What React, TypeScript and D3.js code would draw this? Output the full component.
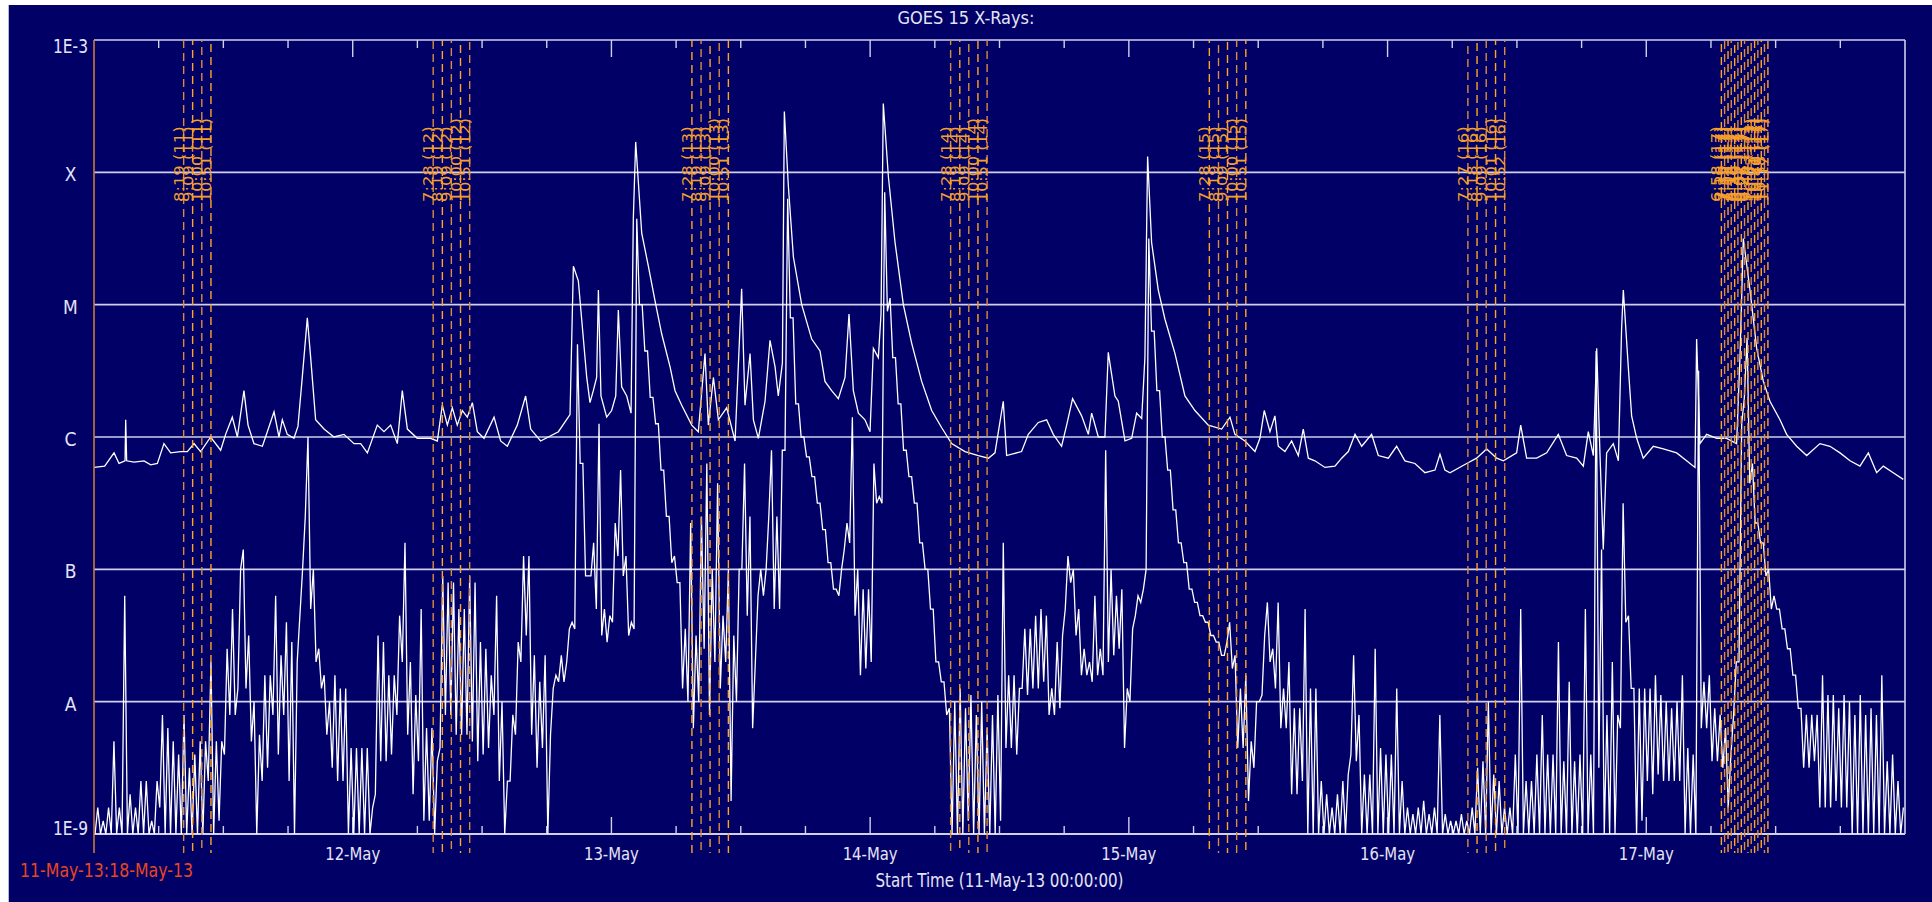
import React from 'react';
import * as d3 from 'd3';

// ---- axis / label data ----
const dayLabels = ['12-May', '13-May', '14-May', '15-May', '16-May', '17-May'];
const dayOffsetsHours = [24, 48, 72, 96, 120, 144];
const yTickValues = [1e-3, 1e-4, 1e-5, 1e-6, 1e-7, 1e-8, 1e-9];
const yTickLabels = ['1E-3', 'X', 'M', 'C', 'B', 'A', '1E-9'];
const gridDecades = [1e-4, 1e-5, 1e-6, 1e-7, 1e-8];

// ---- GOES 15 long channel (1-8 A): hours since 11-May-13 00:00, log10 flux (W/m^2) ----
const longHours = [
  0, 0.99, 1.86, 2.32, 2.88, 2.94, 3.03, 3.71, 4.64, 5.26, 5.88, 6.49, 7.11, 8.04, 8.66, 9.28, 9.89, 10.82, 11.75, 12.21,
  12.83, 13.3, 13.91, 14.29, 14.84, 15.62, 16.08, 16.7, 17.16, 17.47, 17.93, 18.55, 18.92, 19.33, 19.79, 20.1, 20.56, 21.34, 22.26, 23.19,
  24.12, 24.74, 25.36, 26.28, 26.9, 27.52, 28.14, 28.6, 29.07, 29.99, 31.23, 31.85, 32.31, 32.78, 33.24, 33.7, 34.17, 34.63, 35.1, 35.56,
  36.18, 37.11, 37.72, 38.34, 39.27, 40.04, 40.51, 41.43, 43.08, 44.16, 44.47, 44.93, 45.24, 45.71, 46.01, 46.32, 46.63, 46.79, 47.03, 47.56,
  48.02, 48.4, 48.64, 48.95, 49.42, 49.82, 50.03, 50.25, 50.81, 51.43, 52.04, 52.66, 53.44, 53.9, 54.52, 55.45, 56.06, 56.68, 56.99, 57.46,
  57.92, 58.69, 59.47, 60.08, 60.39, 60.86, 61.17, 61.63, 62.25, 62.71, 63.18, 63.48, 63.86, 64.04, 64.41, 64.88, 65.65, 66.58, 67.35, 67.81,
  68.43, 69.05, 69.67, 70.04, 70.44, 70.91, 71.52, 71.99, 72.3, 72.76, 73.01, 73.22, 73.69, 74.31, 75.08, 75.85, 76.78, 77.71, 78.64, 79.56,
  80.8, 82.04, 82.97, 83.58, 84.35, 84.66, 86.05, 86.67, 87.6, 88.37, 88.99, 89.76, 90.23, 90.78, 91.62, 92.24, 92.55, 93.17, 93.78, 94.09,
  94.71, 95.02, 95.64, 96.26, 96.72, 97.19, 97.49, 97.74, 98.11, 98.73, 99.35, 100.28, 101.2, 102.13, 103.37, 104.61, 105.38, 105.84, 106.77, 107.7,
  108.16, 108.56, 109.09, 109.55, 109.86, 110.48, 111.1, 111.72, 112.18, 112.65, 113.26, 114.19, 115.12, 115.74, 116.36, 116.98, 117.6, 118.52, 119.14, 120.07,
  120.84, 121.61, 122.54, 123.47, 124.4, 124.86, 125.32, 125.79, 127.34, 128.26, 129.19, 130.12, 130.74, 131.97, 132.35, 132.9, 133.83, 134.76, 135.84, 136.61,
  137.54, 138.16, 138.62, 139.09, 139.4, 139.7, 140.01, 140.32, 140.94, 141.41, 141.71, 141.87, 142.33, 142.64, 143.11, 143.72, 144.65, 145.58, 146.82, 147.74,
  148.52, 148.67, 148.98, 149.6, 150.53, 151.45, 152.38, 152.69, 153.0, 153.62, 154.24, 154.86, 155.47, 156.4, 157.02, 157.95, 158.88, 160.11, 161.04, 161.97,
  162.9, 163.82, 164.6, 165.37, 165.99, 166.91, 167.84,
];
const longLog10 = [
  -6.23, -6.22, -6.12, -6.2, -6.18, -5.87, -6.18, -6.19, -6.18, -6.21, -6.2, -6.05, -6.12, -6.11, -6.11, -6.05, -6.11, -6.0, -6.1, -5.98,
  -5.85, -6.0, -5.65, -5.91, -6.05, -6.07, -5.96, -5.81, -6.0, -5.87, -5.98, -6.01, -5.92, -5.54, -5.1, -5.4, -5.87, -5.94, -6.0, -5.98,
  -6.05, -6.05, -6.12, -5.91, -5.96, -5.91, -6.05, -5.65, -5.94, -6.01, -6.01, -6.03, -5.76, -5.91, -5.78, -5.91, -5.8, -5.85, -5.74, -5.96,
  -6.01, -5.85, -6.03, -6.07, -5.91, -5.69, -5.94, -6.03, -5.96, -5.83, -4.71, -4.82, -5.11, -5.55, -5.74, -5.65, -5.55, -4.89, -5.69, -5.85,
  -5.8, -5.69, -5.04, -5.62, -5.69, -5.82, -4.35, -3.77, -4.46, -4.71, -4.97, -5.22, -5.47, -5.65, -5.76, -5.91, -5.96, -5.37, -5.91, -5.55,
  -5.87, -5.78, -6.03, -4.88, -5.76, -5.37, -5.87, -6.01, -5.73, -5.27, -5.47, -5.69, -5.44, -3.54, -4.1, -4.64, -5.0, -5.26, -5.35, -5.58,
  -5.65, -5.71, -5.55, -5.07, -5.65, -5.82, -5.87, -5.96, -5.33, -5.4, -5.07, -3.48, -4.03, -4.53, -5.0, -5.29, -5.58, -5.8, -5.93, -6.05,
  -6.11, -6.14, -6.16, -6.12, -5.73, -6.14, -6.11, -5.98, -5.89, -5.87, -5.98, -6.07, -5.91, -5.71, -5.84, -5.98, -5.82, -6.0, -6.0, -5.36,
  -5.69, -5.73, -6.03, -6.01, -5.82, -5.86, -5.4, -3.88, -4.53, -4.89, -5.11, -5.37, -5.69, -5.8, -5.91, -5.94, -5.85, -5.98, -6.03, -6.11,
  -6.01, -5.8, -5.96, -5.84, -6.07, -6.11, -6.03, -6.14, -5.94, -6.16, -6.18, -6.23, -6.22, -6.16, -6.11, -5.98, -6.07, -5.98, -6.14, -6.16,
  -6.07, -6.18, -6.2, -6.27, -6.25, -6.13, -6.25, -6.27, -6.2, -6.16, -6.09, -6.16, -6.18, -6.12, -5.91, -6.16, -6.16, -6.12, -5.98, -6.14,
  -6.16, -6.22, -5.96, -6.14, -5.33, -6.12, -6.85, -6.12, -6.05, -6.18, -5.18, -4.89, -5.47, -5.84, -6.01, -6.16, -6.07, -6.09, -6.12, -6.18,
  -6.23, -5.26, -6.05, -5.98, -6.01, -6.01, -6.05, -5.4, -4.5, -4.89, -5.33, -5.58, -5.73, -5.87, -5.98, -6.07, -6.14, -6.05, -6.07, -6.12,
  -6.18, -6.22, -6.12, -6.27, -6.22, -6.27, -6.32,
];

// ---- GOES 15 short channel (0.5-4 A): 30-minute bins, upper / lower log10 flux ----
const shortHiLog10 = [
  -8.8, -8.9, -8.8, -8.3, -8.8, -7.2, -8.7, -8.8, -8.6, -8.6, -8.9, -8.6, -8.1, -8.2, -8.3, -8.4, -8.1, -8.5, -8.4, -8.3,
  -8.3, -7.7, -8.3, -8.3, -7.6, -7.3, -7.9, -6.85, -7.5, -8.0, -8.25, -7.8, -7.8, -7.2, -7.65, -7.4, -7.55, -7.7, -7.0, -6.0,
  -7.0, -7.6, -7.8, -8.0, -7.8, -7.9, -7.9, -8.35, -8.35, -8.35, -8.35, -8.8, -7.5, -7.55, -7.8, -7.8, -7.35, -6.8, -7.7, -7.95,
  -7.3, -8.2, -8.2, -8.45, -7.05, -7.1, -7.1, -7.3, -7.3, -7.05, -7.1, -7.55, -7.6, -7.8, -7.2, -8.0, -8.6, -8.1, -7.55, -6.9,
  -6.9, -7.65, -7.85, -7.65, -8.25, -7.8, -7.65, -7.7, -7.4, -5.3, -6.2, -7.05, -6.8, -5.9, -7.3, -7.35, -6.65, -6.25, -6.9, -7.4,
  -4.35, -5.0, -5.35, -5.7, -5.9, -6.25, -6.6, -6.9, -7.1, -7.45, -6.65, -7.5, -6.6, -6.2, -7.0, -6.35, -7.35, -7.0, -7.5, -7.0,
  -6.2, -6.6, -7.7, -7.0, -7.0, -6.1, -6.6, -6.1, -4.2, -5.1, -5.75, -6.0, -6.15, -6.3, -6.5, -6.7, -6.95, -7.15, -7.0, -6.65,
  -5.85, -7.0, -7.15, -7.15, -6.2, -6.45, -4.15, -4.95, -5.4, -5.75, -6.1, -6.3, -6.5, -6.8, -7.0, -7.3, -7.7, -7.85, -8.05, -8.0,
  -7.9, -8.05, -7.95, -8.1, -8.0, -8.2, -8.1, -7.95, -6.8, -7.8, -7.8, -7.9, -7.45, -7.45, -7.35, -7.3, -7.35, -7.9, -7.55, -7.5,
  -6.9, -7.0, -7.3, -7.6, -7.7, -7.2, -7.6, -6.1, -7.0, -7.2, -7.15, -7.9, -7.45, -7.2, -7.15, -4.5, -5.2, -5.65, -6.0, -6.25,
  -6.55, -6.8, -6.95, -7.15, -7.25, -7.35, -7.4, -7.5, -7.55, -7.65, -7.4, -7.65, -7.9, -7.8, -8.3, -8.0, -7.95, -7.25, -7.6, -7.25,
  -7.9, -7.7, -8.05, -8.05, -7.3, -7.9, -7.9, -8.6, -8.7, -8.8, -8.7, -8.6, -8.55, -7.65, -8.1, -8.55, -8.55, -7.6, -8.35, -8.4,
  -8.4, -7.9, -8.6, -8.8, -8.85, -8.8, -8.75, -8.85, -8.8, -8.1, -8.85, -8.9, -8.9, -8.85, -8.9, -8.8, -8.5, -8.45, -8.0, -8.55,
  -8.6, -8.8, -8.8, -8.4, -7.3, -8.6, -8.6, -8.4, -8.1, -8.4, -8.4, -7.55, -8.45, -7.85, -8.45, -8.4, -7.3, -8.4, -5.35, -6.85,
  -8.1, -7.7, -8.1, -6.5, -7.35, -7.9, -7.9, -7.9, -7.9, -7.8, -7.95, -8.0, -8.05, -8.0, -7.8, -8.35, -8.4, -5.5, -7.85, -7.8,
  -8.05, -8.1, -8.2, -8.4, -7.7, -5.9, -5.25, -6.2, -6.65, -6.8, -7.0, -7.2, -7.3, -7.45, -7.6, -7.8, -8.05, -8.1, -8.1, -8.1,
  -7.8, -7.95, -7.95, -8.05, -7.95, -8.0, -8.1, -7.95, -8.1, -8.05, -8.1, -7.8, -8.45, -8.4, -8.6, -8.8,
];
const shortLoLog10 = [
  -9, -9, -9, -9, -9, -9, -9, -9, -9, -9, -9, -9, -8.8, -9, -9, -9, -9, -9, -9, -9,
  -9, -8.6, -9, -8.9, -8.4, -8.1, -8.1, -7.0, -7.9, -8.3, -9, -8.6, -8.5, -8.1, -8.4, -8.1, -8.6, -9, -7.35, -6.6,
  -7.3, -7.7, -7.9, -8.25, -8.5, -8.6, -8.6, -9, -9, -9, -9, -9, -8.7, -8.45, -8.45, -8.4, -8.1, -7.7, -8.25, -8.7,
  -8.45, -8.9, -8.9, -9, -8.35, -8.1, -8.1, -8.25, -8.25, -8.25, -8.3, -8.45, -8.4, -8.35, -8.1, -8.6, -9, -8.6, -8.25, -7.7,
  -7.5, -8.25, -8.5, -8.35, -9, -7.9, -7.85, -7.85, -7.45, -7.45, -6.2, -7.05, -7.05, -7.3, -7.5, -7.55, -7.4, -6.9, -7.05, -7.5,
  -7.45, -5.0, -5.35, -5.7, -5.9, -6.25, -6.6, -6.95, -7.1, -7.9, -8.0, -8.2, -8.0, -7.6, -8.1, -7.7, -7.9, -7.7, -8.75, -8.0,
  -7.0, -7.35, -8.2, -7.2, -7.2, -6.6, -7.3, -7.3, -6.1, -5.1, -5.75, -6.0, -6.15, -6.3, -6.5, -6.7, -6.95, -7.15, -7.2, -6.85,
  -6.8, -7.35, -7.8, -7.75, -7.7, -6.5, -6.5, -5.05, -5.4, -5.75, -6.1, -6.3, -6.5, -6.8, -7.0, -7.3, -7.7, -7.85, -8.1, -9,
  -9, -9, -8.9, -9, -9, -9, -9, -9, -8.9, -8.35, -8.35, -8.4, -7.9, -7.95, -7.9, -7.9, -7.85, -8.1, -8.1, -8.05,
  -7.3, -7.1, -7.5, -7.8, -7.8, -7.85, -7.8, -7.8, -7.7, -7.65, -7.6, -8.35, -8.0, -7.35, -7.25, -7.0, -5.2, -5.65, -6.0, -6.25,
  -6.55, -6.8, -6.95, -7.15, -7.25, -7.35, -7.4, -7.5, -7.55, -7.65, -7.55, -7.75, -8.35, -8.35, -8.75, -8.5, -8.0, -7.5, -7.7, -7.9,
  -8.2, -8.2, -8.7, -8.7, -8.6, -9, -9, -9, -9, -9, -9, -9, -9, -8.4, -8.45, -9, -9, -9, -9, -9,
  -9, -9, -9, -9, -9, -9, -9, -9, -9, -9, -9, -9, -9, -9, -9, -9, -9, -9, -9, -9,
  -9, -9, -9, -9, -9, -9, -9, -9, -9, -9, -9, -9, -9, -9, -9, -9, -9, -9, -9, -8.5,
  -9, -9, -9, -8.2, -7.4, -7.9, -9, -8.9, -8.6, -8.7, -8.55, -8.6, -8.6, -8.6, -8.6, -9, -9, -9, -8.2, -8.2,
  -8.45, -8.45, -8.5, -8.8, -8.1, -7.7, -5.7, -6.35, -6.65, -6.8, -7.05, -7.3, -7.3, -7.45, -7.6, -7.8, -8.05, -8.5, -8.5, -8.45,
  -8.8, -8.8, -8.8, -8.75, -8.8, -8.8, -9, -9, -9, -9, -9, -9, -9, -9, -9, -9,
];

// ---- orange event markers (day of May 2013, UT time) ----
const eventDays = [
  11, 11, 11, 11,
  12, 12, 12, 12, 12,
  13, 13, 13, 13, 13,
  14, 14, 14, 14, 14,
  15, 15, 15, 15, 15,
  16, 16, 16, 16, 16,
  17, 17, 17, 17, 17, 17, 17, 17, 17, 17, 17, 17, 17, 17, 17,
];
const eventTimes = [
  '8:19', '9:09', '10:00', '10:51',
  '7:28', '8:19', '9:09', '10:00', '10:51',
  '7:28', '8:19', '9:09', '10:00', '10:51',
  '7:28', '8:19', '9:09', '10:00', '10:51',
  '7:28', '8:19', '9:09', '10:00', '10:51',
  '7:27', '8:18', '9:09', '10:01', '10:52',
  '6:58', '7:16', '7:35', '7:53', '8:12', '8:30', '8:49', '9:07', '9:26', '9:44', '10:03', '10:21', '10:40', '10:58', '11:17',
];

const FONT = "'Liberation Sans Narrow', 'DejaVu Sans Condensed', 'Liberation Sans', sans-serif";
const BG = '#000066';
const AXIS = '#cfcfee';
const TXT = '#e4e4f6';

export default function App() {
  const W = 1932;
  const H = 902;
  const left = 94, right = 1905, top = 40, bottom = 834;

  const x = d3.scaleLinear().domain([0, 168]).range([left, right]);
  const y = d3.scaleLog().domain([1e-9, 1e-3]).range([bottom, top]);

  const longPts = longHours.map((t, i) => ({ t, f: Math.pow(10, longLog10[i]) }));
  const shortPts: { t: number; f: number }[] = [];
  shortHiLog10.forEach((hi, i) => {
    const t0 = i * 0.5;
    shortPts.push({ t: t0 + 0.1, f: Math.pow(10, shortLoLog10[i]) });
    shortPts.push({ t: t0 + 0.35, f: Math.pow(10, hi) });
  });

  const line = d3
    .line<{ t: number; f: number }>()
    .x((d) => x(d.t))
    .y((d) => y(d.f));

  const tickHours = d3.range(6, 168, 6);

  const events = eventDays.map((day, i) => {
    const [hh, mm] = eventTimes[i].split(':').map(Number);
    const t = (day - 11) * 24 + hh + mm / 60;
    return { t, label: `${eventTimes[i]} (${day})`, i };
  });

  return (
    <svg
      width={W}
      height={H}
      style={{ position: 'absolute', left: 0, top: 0, display: 'block' }}
      fontFamily={FONT}
    >
      <rect x={8} y={5} width={W - 8} height={H - 5} fill={BG} />
      <line x1={8.5} y1={5} x2={8.5} y2={H} stroke="#b8b8d0" strokeWidth={1} />

      <text x={966} y={24} textAnchor="middle" fontSize={17} fill={TXT} textLength={137} lengthAdjust="spacingAndGlyphs">
        GOES 15 X-Rays:
      </text>

      {/* grid lines */}
      {gridDecades.map((v) => (
        <line key={v} x1={left} x2={right} y1={y(v)} y2={y(v)} stroke={AXIS} strokeWidth={1.6} />
      ))}
      {/* frame */}
      <line x1={left} x2={right} y1={top} y2={top} stroke={AXIS} strokeWidth={1.6} />
      <line x1={left} x2={right} y1={bottom} y2={bottom} stroke={AXIS} strokeWidth={1.8} />
      <line x1={right} x2={right} y1={top} y2={bottom} stroke={AXIS} strokeWidth={1.6} />

      {/* ticks */}
      {tickHours.map((h) => {
        const len = h % 24 === 0 ? 17 : 8;
        return (
          <g key={h}>
            <line x1={x(h)} x2={x(h)} y1={top} y2={top + len} stroke={AXIS} strokeWidth={1.4} />
            <line x1={x(h)} x2={x(h)} y1={bottom} y2={bottom - len} stroke={AXIS} strokeWidth={1.4} />
          </g>
        );
      })}

      {/* data */}
      <path d={line(shortPts) || ''} fill="none" stroke="#ffffff" strokeWidth={1.3} strokeLinejoin="miter" />
      <path d={line(longPts) || ''} fill="none" stroke="#ffffff" strokeWidth={1.3} />

      {/* event markers */}
      {events.map((e) => (
        <line
          key={'l' + e.i}
          x1={x(e.t)}
          x2={x(e.t)}
          y1={top}
          y2={853}
          stroke={e.i % 2 === 0 ? '#d98c3c' : '#ffa526'}
          strokeWidth={1.4}
          strokeDasharray="8,5"
          strokeDashoffset={e.i * 3}
        />
      ))}
      {events.map((e) => (
        <text
          key={'t' + e.i}
          transform={`translate(${x(e.t)},202) rotate(-90)`}
          fontSize={13.5}
          fill="#f5a02a"
          textLength={e.label.length * 8.4}
          lengthAdjust="spacingAndGlyphs"
        >
          {e.label}
        </text>
      ))}

      {/* left axis */}
      <line x1={left} x2={left} y1={top} y2={853} stroke="#c87a3c" strokeWidth={1.6} />

      {/* y labels */}
      {yTickValues.map((v, i) => {
        let by = y(v) + 9;
        if (i === 0) by = y(v) + 13;
        if (i === yTickValues.length - 1) by = y(v) + 1;
        const long = yTickLabels[i].length > 1;
        return (
          <text
            key={v}
            x={70.5}
            y={by}
            textAnchor="middle"
            fontSize={19}
            fill={TXT}
            {...(long ? { textLength: 35, lengthAdjust: 'spacingAndGlyphs' } : {})}
          >
            {yTickLabels[i]}
          </text>
        );
      })}

      {/* x labels */}
      {dayLabels.map((d, i) => (
        <text key={d} x={x(dayOffsetsHours[i])} y={860} textAnchor="middle" fontSize={17.5} fill={TXT} textLength={55} lengthAdjust="spacingAndGlyphs">
          {d}
        </text>
      ))}
      <text x={(left + right) / 2} y={887} textAnchor="middle" fontSize={19} fill={TXT} textLength={248} lengthAdjust="spacingAndGlyphs">
        Start Time (11-May-13 00:00:00)
      </text>
      <text x={20} y={877} fontSize={20} fill="#e8461e" textLength={173} lengthAdjust="spacingAndGlyphs">
        11-May-13:18-May-13
      </text>
    </svg>
  );
}
